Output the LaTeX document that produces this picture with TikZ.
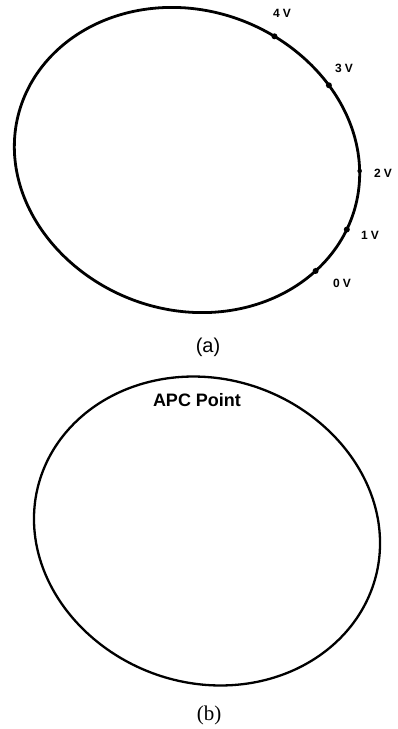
\documentclass[tikz,border=0pt]{standalone}
\usepackage{fontspec}
\newfontfamily\sansf{Liberation Sans}
\newfontfamily\seriff{Liberation Serif}
\newcommand\ellApt[1]{({187+(1+0.045*sin(2*#1))*172*cos(#1)},{160+(1+0.045*sin(2*#1))*152*sin(#1)})}
\begin{document}
\begin{tikzpicture}[x=1pt,y=-1pt,
  curveA/.style={line width=2.8pt,line join=round},
  curveB/.style={line width=2.3pt,line join=round},
  vdot/.style={circle,fill=black,inner sep=0pt,minimum size=6pt},
  vlabel/.style={font=\sansf\bfseries\fontsize{12}{13}\selectfont,inner sep=0pt},
  caplabel/.style={inner sep=0pt}]
\useasboundingbox (0,0) rectangle (398,729);
% (a)
\draw[curveA] plot[domain=0:360,samples=120,smooth cycle,variable=\t]
  ({187+(1+0.045*sin(2*\t))*172*cos(\t)},{160+(1+0.045*sin(2*\t))*152*sin(\t)});
\node[vdot] (d4) at \ellApt{-58} {};
\node[vdot] (d3) at \ellApt{-30.8} {};
\node[vdot,minimum size=4.5pt] (d2) at \ellApt{4.1} {};
\node[vdot] (d1) at \ellApt{26.2} {};
\node[vdot] (d0) at \ellApt{44.3} {};
\node[vlabel] (l4) at (282,13) {4\hspace{3pt}V};
\node[vlabel] (l3) at (344,68) {3\hspace{3pt}V};
\node[vlabel] (l2) at (383,173) {2\hspace{3pt}V};
\node[vlabel] (l1) at (370,235) {1\hspace{3pt}V};
\node[vlabel] (l0) at (342,283) {0\hspace{3pt}V};
\node[caplabel,font=\sansf\fontsize{20}{22}\selectfont] (ca) at (208,347) {(a)};
% (b)
\draw[curveB] plot[domain=0:360,samples=120,smooth cycle,variable=\t]
  ({207+(1+0.04*sin(2*\t))*172.5*cos(\t)},{531+(1+0.04*sin(2*\t))*154*sin(\t)});
\node[font=\sansf\bfseries\fontsize{18}{20}\selectfont,inner sep=0pt] (apc) at (197,400) {APC Point};
\node[caplabel,font=\seriff\fontsize{21}{23}\selectfont] (cb) at (209,715) {(b)};
\end{tikzpicture}
\end{document}
